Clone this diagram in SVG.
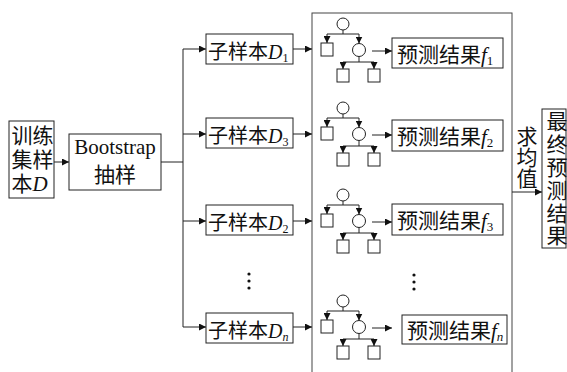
<svg xmlns="http://www.w3.org/2000/svg" width="567" height="372" viewBox="0 0 567 372">
<defs>
<marker id="ah" viewBox="0 0 10 10" refX="10" refY="5" markerWidth="7" markerHeight="7" markerUnits="userSpaceOnUse" orient="auto">
<path d="M0,0 L10,5 L0,10 Z" fill="#111"/>
</marker>
<g id="tree">
<circle cx="-16" cy="-26" r="6"/>
<rect x="-38" y="-7" width="12" height="13"/>
<circle cx="0" cy="0" r="6.5"/>
<rect x="-22" y="19" width="12" height="13"/>
<rect x="9" y="19" width="12" height="13"/>
<path class="ln" d="M-16,-20 V-16 M-32,-16 H0 M0,6.5 V12 M-16,12 H15"/>
<line class="ar" x1="-32" y1="-16" x2="-32" y2="-7"/>
<line class="ar" x1="0" y1="-16" x2="0" y2="-6.5"/>
<line class="ar" x1="-16" y1="12" x2="-16" y2="19"/>
<line class="ar" x1="15" y1="12" x2="15" y2="19"/>
<line class="ar" x1="13" y1="1" x2="33" y2="1"/>
</g>
</defs>
<style>
.box{fill:#fff;stroke:#222;stroke-width:1}
.big{fill:none;stroke:#444;stroke-width:1}
.ln{fill:none;stroke:#222;stroke-width:1}
.ar{fill:none;stroke:#222;stroke-width:1;marker-end:url(#ah)}
#tree circle,#tree rect{fill:#fff;stroke:#222;stroke-width:1}
text{font-family:"Liberation Serif","Noto Sans CJK SC",serif;font-size:21px;fill:#111}
.sub{font-size:20px}
.it{font-style:italic}
.vt{writing-mode:vertical-rl}
.dot{fill:#111}
</style>
<rect width="567" height="372" fill="#fff"/>
<g id="container">
<rect class="big" x="312" y="13" width="200" height="380"/>
</g>
<g id="connectors">
<line class="ar" x1="54" y1="162" x2="69" y2="162"/>
<line class="ln" x1="161" y1="162" x2="183" y2="162"/>
<line class="ln" x1="183" y1="49" x2="183" y2="327"/>
<line class="ar" x1="183" y1="49" x2="206" y2="49"/>
<line class="ar" x1="183" y1="134" x2="206" y2="134"/>
<line class="ar" x1="183" y1="221" x2="206" y2="221"/>
<line class="ar" x1="183" y1="327" x2="206" y2="327"/>
<line class="ar" x1="293" y1="49" x2="312" y2="49"/>
<line class="ar" x1="293" y1="134" x2="312" y2="134"/>
<line class="ar" x1="293" y1="221" x2="312" y2="221"/>
<line class="ar" x1="293" y1="327" x2="312" y2="327"/>
<line class="ar" x1="512" y1="192" x2="542" y2="192"/>
</g>
<g id="input">
<rect class="box" x="9" y="121" width="45" height="77"/>
<text x="11.5" y="143">训练</text>
<text x="11.5" y="167">集样</text>
<text x="11.5" y="191">本<tspan class="it">D</tspan></text>
</g>
<g id="bootstrap">
<rect class="box" x="69" y="134" width="92" height="56"/>
<text x="115" y="154" text-anchor="middle">Bootstrap</text>
<text x="115" y="182" text-anchor="middle">抽样</text>
</g>
<g id="sub1">
<rect class="box" x="206" y="34" width="87" height="30"/>
<text class="sub" x="208" y="59">子样本<tspan class="it">D</tspan><tspan font-size="12" dy="3">1</tspan></text>
</g>
<g id="sub2">
<rect class="box" x="206" y="118" width="87" height="30"/>
<text class="sub" x="208" y="143">子样本<tspan class="it">D</tspan><tspan font-size="12" dy="3">3</tspan></text>
</g>
<g id="sub3">
<rect class="box" x="206" y="205" width="87" height="30"/>
<text class="sub" x="208" y="230">子样本<tspan class="it">D</tspan><tspan font-size="12" dy="3">2</tspan></text>
</g>
<g id="sub4">
<rect class="box" x="206" y="313" width="87" height="30"/>
<text class="sub" x="208" y="338">子样本<tspan class="it">D</tspan><tspan font-size="12" dy="3" class="it">n</tspan></text>
</g>
<g id="dots1">
<circle class="dot" cx="249" cy="274" r="1.6"/>
<circle class="dot" cx="249" cy="281" r="1.6"/>
<circle class="dot" cx="249" cy="288" r="1.6"/>
</g>
<g id="tree1" transform="translate(359,50)"><use href="#tree"/></g>
<g id="tree2" transform="translate(359,134)"><use href="#tree"/></g>
<g id="tree3" transform="translate(359,221)"><use href="#tree"/></g>
<g id="tree4" transform="translate(359,327)"><use href="#tree"/></g>
<g id="dots2">
<circle class="dot" cx="414" cy="275" r="1.6"/>
<circle class="dot" cx="414" cy="282" r="1.6"/>
<circle class="dot" cx="414" cy="289" r="1.6"/>
</g>
<g id="res1">
<rect class="box" x="392" y="38" width="111" height="30"/>
<text x="397" y="62">预测结果<tspan class="it">f</tspan><tspan font-size="13" dy="3">1</tspan></text>
</g>
<g id="res2">
<rect class="box" x="392" y="120" width="111" height="31"/>
<text x="397" y="144">预测结果<tspan class="it">f</tspan><tspan font-size="13" dy="3">2</tspan></text>
</g>
<g id="res3">
<rect class="box" x="392" y="204" width="111" height="31"/>
<text x="397" y="228">预测结果<tspan class="it">f</tspan><tspan font-size="13" dy="3">3</tspan></text>
</g>
<g id="res4">
<rect class="box" x="402" y="315" width="105" height="29"/>
<text x="407" y="338">预测结果<tspan class="it">f</tspan><tspan font-size="13" dy="3" class="it">n</tspan></text>
</g>
<g id="avg">
<text class="vt" x="525" y="126" font-size="20">求均值</text>
</g>
<g id="final">
<rect class="box" x="542" y="109" width="24" height="139"/>
<text class="vt" x="555" y="111" letter-spacing="1.8">最终预测结果</text>
</g>
</svg>
